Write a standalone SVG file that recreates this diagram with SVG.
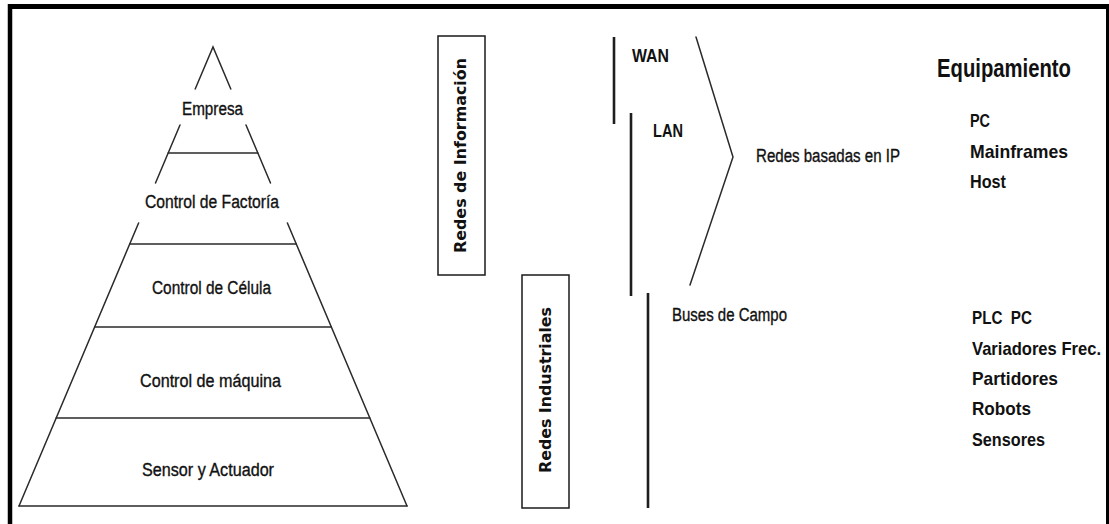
<svg xmlns="http://www.w3.org/2000/svg" width="1109" height="524" viewBox="0 0 1109 524">
<style>
.pl{stroke:#2a2a2a;stroke-width:1.5;fill:none;stroke-linecap:round}
.bar{stroke:#1e1e1e;stroke-width:2.6;fill:none}
.box{fill:#fff;stroke:#1a1a1a;stroke-width:1.5}
.t{font-family:"Liberation Sans",Arial,sans-serif;font-size:18px;fill:#111;stroke:#111;stroke-width:0.35}
.b{font-family:"Liberation Sans",Arial,sans-serif;font-size:19px;font-weight:bold;fill:#111}
.v{font-family:"DejaVu Sans","Liberation Sans",sans-serif;font-size:15.5px;font-weight:bold;fill:#111}
</style>
<rect width="1109" height="524" fill="#fff"/>
<g id="frame">
<line x1="8" y1="6.5" x2="1109" y2="6.5" stroke="#000" stroke-width="5"/>
<line x1="10" y1="4" x2="10" y2="524" stroke="#000" stroke-width="4.5"/>
<line x1="1107.5" y1="4" x2="1107.5" y2="524" stroke="#000" stroke-width="3"/>
</g>
<g id="pyramid">
<g id="pyramid-outline">
<polyline class="pl" points="195.2,89 213,47 230.8,89"/>
<line class="pl" x1="180" y1="125" x2="155.5" y2="183"/>
<line class="pl" x1="246" y1="125" x2="270.5" y2="183"/>
<line class="pl" x1="138.6" y1="223" x2="19" y2="506"/>
<line class="pl" x1="287.4" y1="223" x2="407" y2="506"/>
<line class="pl" x1="168.2" y1="153" x2="257.8" y2="153"/>
<line class="pl" x1="129.7" y1="244" x2="296.3" y2="244"/>
<line class="pl" x1="94.6" y1="327" x2="331.4" y2="327"/>
<line class="pl" x1="56.2" y1="418" x2="369.8" y2="418"/>
<line class="pl" x1="19" y1="506" x2="407" y2="506"/>
</g>
<g id="lvl-empresa"><text class="t" x="182" y="114.5" textLength="61" lengthAdjust="spacingAndGlyphs">Empresa</text></g>
<g id="lvl-factoria"><text class="t" x="145" y="207.5" textLength="134" lengthAdjust="spacingAndGlyphs">Control de Factoría</text></g>
<g id="lvl-celula"><text class="t" x="152" y="293.5" textLength="119" lengthAdjust="spacingAndGlyphs">Control de Célula</text></g>
<g id="lvl-maquina"><text class="t" x="140" y="386.5" textLength="141" lengthAdjust="spacingAndGlyphs">Control de máquina</text></g>
<g id="lvl-sensor"><text class="t" x="142" y="475.5" textLength="132" lengthAdjust="spacingAndGlyphs">Sensor y Actuador</text></g>
</g>
<g id="redes-informacion">
<rect class="box" x="438" y="36" width="47" height="239"/>
<text class="v" transform="translate(465.5,155.5) rotate(-90)" text-anchor="middle" textLength="195" lengthAdjust="spacingAndGlyphs">Redes de Información</text>
</g>
<g id="redes-industriales">
<rect class="box" x="522" y="275" width="47" height="233"/>
<text class="v" transform="translate(550.5,390) rotate(-90)" text-anchor="middle" textLength="166" lengthAdjust="spacingAndGlyphs">Redes Industriales</text>
</g>
<g id="connectors">
<line class="bar" x1="614" y1="37" x2="614" y2="124"/>
<line class="bar" x1="631" y1="113" x2="631" y2="296"/>
<line class="bar" x1="648" y1="293" x2="648" y2="508"/>
<polyline class="pl" points="696,37 733,157 690,285"/>
</g>
<g id="wan"><text class="b" x="632" y="62" textLength="37" lengthAdjust="spacingAndGlyphs">WAN</text></g>
<g id="lan"><text class="b" x="653" y="137" textLength="30" lengthAdjust="spacingAndGlyphs">LAN</text></g>
<g id="buses"><text class="t" x="672" y="320.5" textLength="115" lengthAdjust="spacingAndGlyphs">Buses de Campo</text></g>
<g id="redes-ip"><text class="t" x="756" y="161.5" textLength="144" lengthAdjust="spacingAndGlyphs">Redes basadas en IP</text></g>
<g id="equipamiento">
<text class="b" x="937" y="77" style="font-size:25px" textLength="134" lengthAdjust="spacingAndGlyphs">Equipamiento</text>
</g>
<g id="equipo-info">
<text class="b" x="970" y="127" textLength="20" lengthAdjust="spacingAndGlyphs">PC</text>
<text class="b" x="970" y="158" textLength="98" lengthAdjust="spacingAndGlyphs">Mainframes</text>
<text class="b" x="970" y="188" textLength="36" lengthAdjust="spacingAndGlyphs">Host</text>
</g>
<g id="equipo-industrial">
<text class="b" x="972" y="324" xml:space="preserve" textLength="60" lengthAdjust="spacingAndGlyphs">PLC  PC</text>
<text class="b" transform="translate(972,355) scale(1,1.25)" style="font-size:15px" textLength="129" lengthAdjust="spacingAndGlyphs">Variadores Frec.</text>
<text class="b" x="972" y="385" textLength="86" lengthAdjust="spacingAndGlyphs">Partidores</text>
<text class="b" x="972" y="415" textLength="59" lengthAdjust="spacingAndGlyphs">Robots</text>
<text class="b" x="972" y="446" textLength="73" lengthAdjust="spacingAndGlyphs">Sensores</text>
</g>
</svg>
